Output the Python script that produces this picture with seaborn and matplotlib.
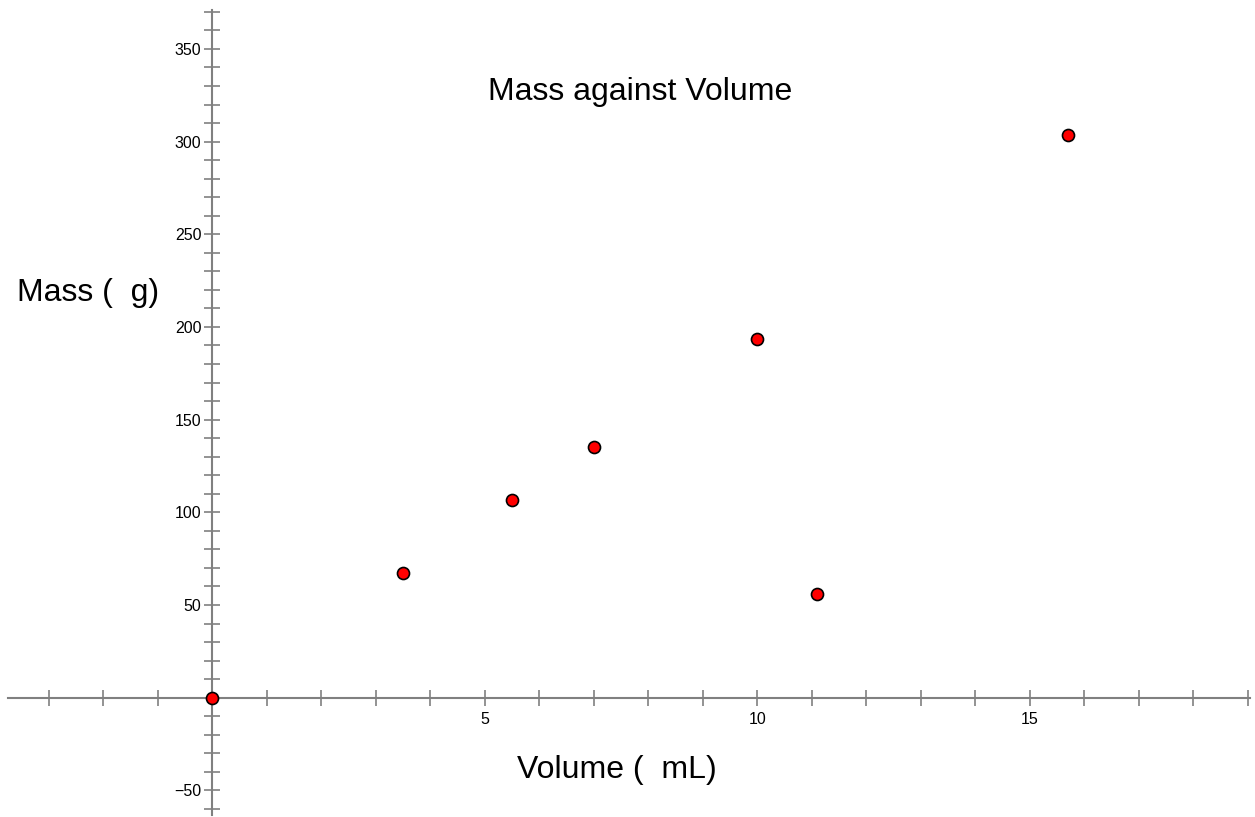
import matplotlib
matplotlib.use("Agg")
import matplotlib.pyplot as plt
import matplotlib.ticker as mticker
import seaborn as sns
import pandas as pd

volume = [0, 3.5, 5.5, 7.0, 10.0, 11.1, 15.7]
mass = [0, 67.5, 106.5, 135.5, 193.5, 56, 303.5]

title = "Mass against Volume"
xlabel = "Volume (  mL)"
ylabel = "Mass (  g)"

sns.set_theme(style="white")
plt.rcParams['font.family'] = ['Liberation Sans', 'DejaVu Sans']
plt.rcParams['text.color'] = 'black'

W, H = 1255, 817
fig = plt.figure(figsize=(W / 100, H / 100), dpi=100)
left_px, right_px, top_px, bottom_px = 8, 1250, 10, 815
ax = fig.add_axes([left_px / W, (H - bottom_px) / H, (right_px - left_px) / W, (bottom_px - top_px) / H])

df = pd.DataFrame({"Volume": volume, "Mass": mass})
sns.scatterplot(data=df, x="Volume", y="Mass", ax=ax, color="#ff0000", edgecolor="black",
                linewidth=1.2, s=75, zorder=5, clip_on=False)

ax.set_xlim(-3.75, 19.04)
ax.set_ylim(-63.3, 371)

for s in ["top", "right"]:
    ax.spines[s].set_visible(False)
for s in ["left", "bottom"]:
    ax.spines[s].set_position(("data", 0))
    ax.spines[s].set_color("#808080")
    ax.spines[s].set_linewidth(1.5)

ax.xaxis.set_major_locator(mticker.FixedLocator([5, 10, 15]))
ax.xaxis.set_minor_locator(mticker.MultipleLocator(1))
ax.yaxis.set_major_locator(mticker.FixedLocator([-50, 50, 100, 150, 200, 250, 300, 350]))
ax.yaxis.set_minor_locator(mticker.MultipleLocator(10))
ax.tick_params(which="both", bottom=True, left=True, top=False, right=False,
               direction="inout", length=12, width=1.2, color="#808080",
               labelsize=11.5, labelcolor="black")
ax.tick_params(axis="x", which="major", pad=4)
ax.tick_params(axis="y", which="major", pad=2)

ax.set_xlabel("")
ax.set_ylabel("")
ax.grid(False)

fig.text(640 / W, 1 - 92 / H, title, ha="center", va="center", fontsize=23, color="black")
fig.text(617 / W, 1 - 770 / H, xlabel, ha="center", va="center", fontsize=23, color="black")
fig.text(88 / W, 1 - 293 / H, ylabel, ha="center", va="center", fontsize=23, color="black")

fig.savefig("out.png", dpi=100, facecolor="white")
